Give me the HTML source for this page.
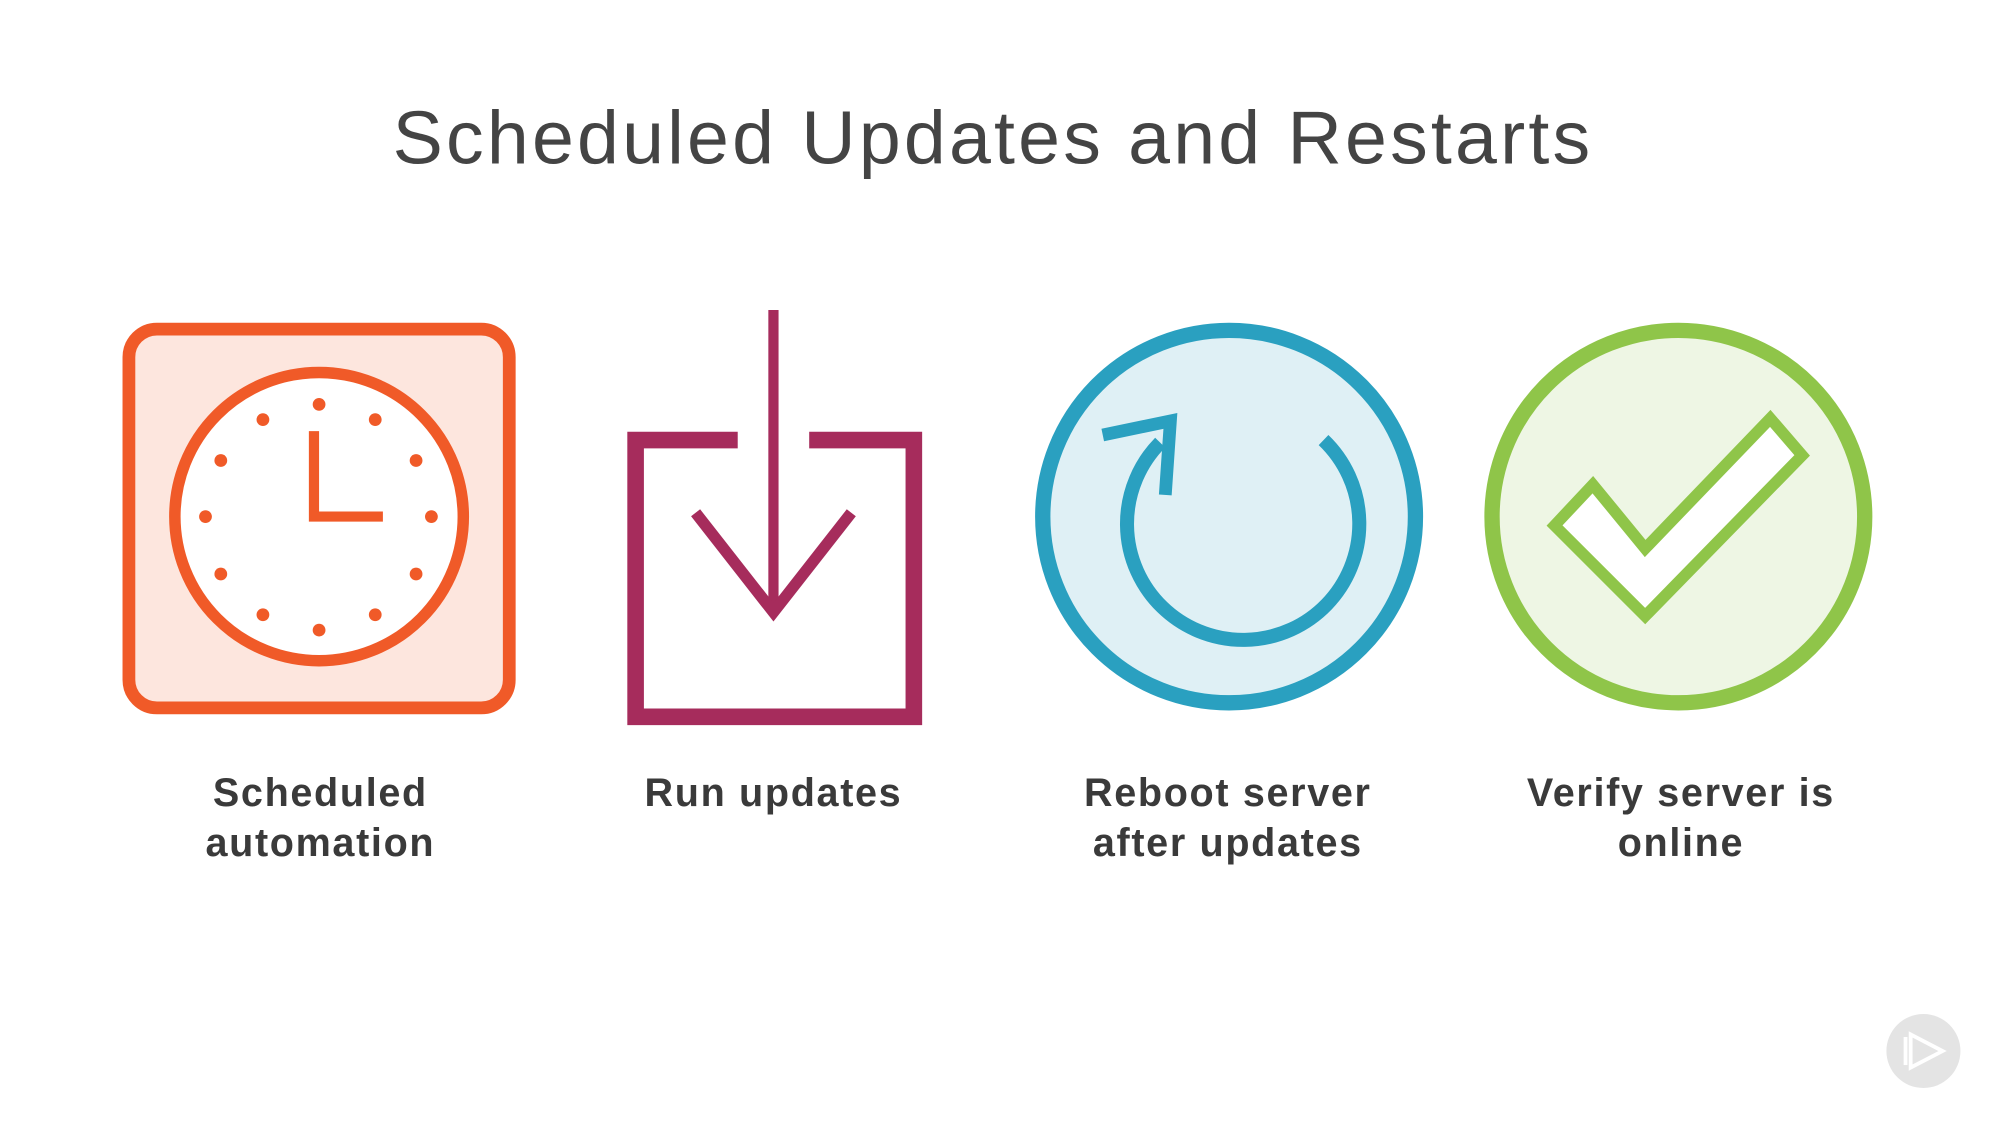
<!DOCTYPE html>
<html><head><style>
html,body{margin:0;padding:0;background:#fff;}
svg{display:block;}
</style></head><body>
<svg width="2000" height="1125" viewBox="0 0 1567 882" preserveAspectRatio="none" xmlns="http://www.w3.org/2000/svg">
<rect width="1567" height="882" fill="#fff"/>
<text x="778" y="128" text-anchor="middle" font-family="Liberation Sans, sans-serif" font-size="59" fill="#444" letter-spacing="2.5">Scheduled Updates and Restarts</text>

<!-- clock -->
<rect x="101" y="258" width="298" height="297" rx="22" fill="#fde6de" stroke="#f05a28" stroke-width="10"/>
<circle cx="250" cy="405" r="113" fill="#fff" stroke="#f05a28" stroke-width="9"/>
<g fill="#f05a28">
<circle cx="250" cy="317" r="5"/><circle cx="294" cy="329" r="5"/><circle cx="326" cy="361" r="5"/>
<circle cx="338" cy="405" r="5"/><circle cx="326" cy="450" r="5"/><circle cx="294" cy="482" r="5"/>
<circle cx="250" cy="494" r="5"/><circle cx="206" cy="482" r="5"/><circle cx="173" cy="450" r="5"/>
<circle cx="161" cy="405" r="5"/><circle cx="173" cy="361" r="5"/><circle cx="206" cy="329" r="5"/>
</g>
<polyline points="246,338 246,405 300,405" fill="none" stroke="#f05a28" stroke-width="8"/>

<!-- download -->
<polyline points="578,345 498,345 498,562 716,562 716,345 634,345" fill="none" stroke="#a62c5c" stroke-width="13"/>
<line x1="606" y1="243" x2="606" y2="478" stroke="#a62c5c" stroke-width="8"/>
<polyline points="545,402 606,480 667,402" fill="none" stroke="#a62c5c" stroke-width="9"/>

<!-- reboot -->
<circle cx="963" cy="405" r="146" fill="#dff0f5" stroke="#2aa0c0" stroke-width="12"/>
<path d="M1037,345 A91,91 0 1 1 909,347" fill="none" stroke="#2aa0c0" stroke-width="11"/>
<polyline points="864,341 917,330 913,388" fill="none" stroke="#2aa0c0" stroke-width="10"/>

<!-- check -->
<circle cx="1315" cy="405" r="146" fill="#eef6e4" stroke="#8fc549" stroke-width="12"/>
<polygon points="1218,412 1248,380 1289,430 1387,328 1412,357 1289,483" fill="#fff" stroke="#8fc549" stroke-width="9" stroke-linejoin="miter"/>

<g font-family="Liberation Sans, sans-serif" font-size="31" font-weight="bold" fill="#3a3a3a" text-anchor="middle" letter-spacing="1.3">
<text x="251" y="632">Scheduled</text><text x="251" y="671">automation</text>
<text x="606" y="632">Run updates</text>
<text x="962" y="632">Reboot server</text><text x="962" y="671">after updates</text>
<text x="1317" y="632">Verify server is</text><text x="1317" y="671">online</text>
</g>

<circle cx="1507" cy="824" r="29" fill="#e4e4e4"/>
<polygon points="1497,811 1522,824 1497,837" fill="none" stroke="#fff" stroke-width="3"/>
<line x1="1493" y1="813" x2="1493" y2="835" stroke="#fff" stroke-width="3"/>
</svg>
</body></html>
